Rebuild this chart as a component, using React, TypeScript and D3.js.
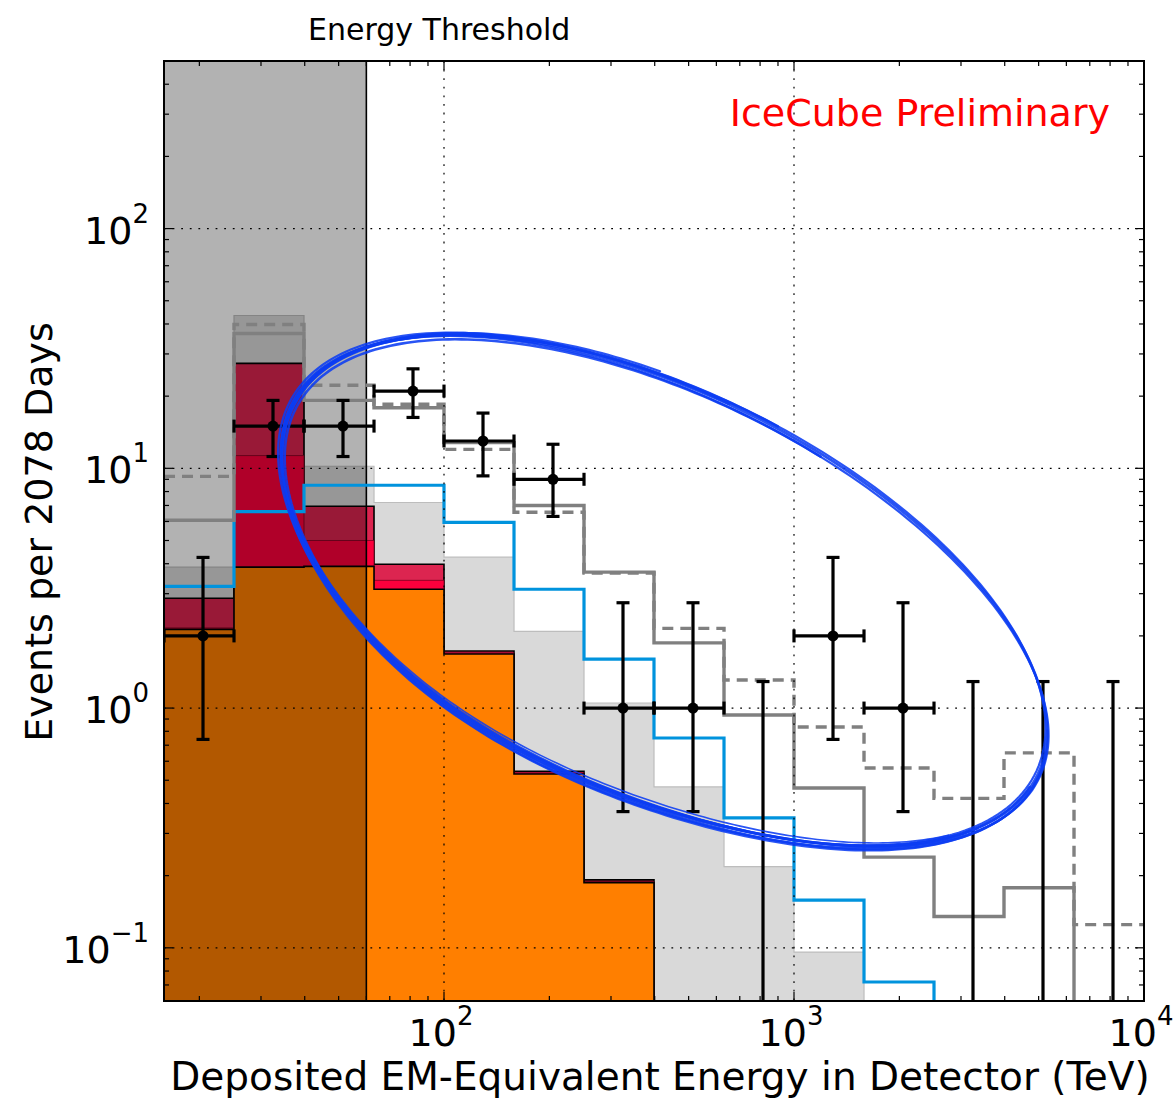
import React from "react";
import * as d3 from "d3";

// Bin edges (TeV), 0.2 decades wide
const binEdges = [15.85, 25.12, 39.81, 63.1, 100, 158.5, 251.2, 398.1, 631.0, 1000, 1585, 2512, 3981, 6310, 10000];
const thresholdEnergy = 60;

// Stacked expectation (cumulative tops per bin)
const lightGrayTop = [3.87, 43.4, 10.2, 7.2, 4.26, 2.09, 1.05, 0.469, 0.218, 0.096, 0.04, 0.02, 0.01, 0.005];
const pinkTop = [2.87, 27.4, 6.95, 3.98, 1.73, 0.545, 0.192, 0.05, 0.02, 0.01, 0.005, 0.003, 0.002, 0.001];
const redTop = [2.16, 11.3, 5.0, 3.41, 1.7, 0.537, 0.189, 0.04, 0.015, 0.008, 0.004, 0.002, 0.001, 0.001];
const orangeTop = [2.13, 3.87, 3.9, 3.13, 1.68, 0.531, 0.187, 0.03, 0.01, 0.005, 0.003, 0.002, 0.001, 0.001];

// Step-line predictions
const blueLine = [3.22, 6.6, 8.5, 8.5, 5.95, 3.13, 1.6, 0.75, 0.348, 0.158, 0.072, 0.03, 0.015, 0.008];
const solidGrayLine = [6.07, 36.5, 19.2, 17.9, 12.8, 7.0, 3.69, 1.87, 0.935, 0.464, 0.239, 0.135, 0.178, 0.03];
const dashedGrayLine = [9.26, 39.8, 22.2, 18.5, 12.0, 6.56, 3.66, 2.15, 1.31, 0.834, 0.562, 0.42, 0.65, 0.125];

// Observed events with 68% intervals
const observedCounts = [2, 15, 15, 21, 13, 9, 1, 1, 0, 2, 1, 0, 0, 0];
const countLow = [0.74, 11.2, 11.2, 16.3, 9.3, 6.3, 0.37, 0.37, 0, 0.74, 0.37, 0, 0, 0];
const countHigh = [4.25, 19.2, 19.2, 26.0, 17.0, 12.6, 2.75, 2.75, 1.29, 4.25, 2.75, 1.29, 1.29, 1.29];

// Axis ticks
const xMajorTicks = [100, 1000, 10000];
const xMajorExponents = ["2", "3", "4"];
const yMajorTicks = [0.1, 1, 10, 100];
const yMajorExponents = ["\u22121", "0", "1", "2"];

// Hand-drawn ring annotation (centre in data units, radii in x-decades)
const ringCenter = { energy: 428, events: 3.1 };
const ringRadii = { major: 1.188, minor: 0.558 };
const ringTiltDeg = 26.55;
const ringBulge = { px: 16, at: 2.0, spread: 0.7 }; // lower-left sag of the hand-drawn loop
// individual pen strokes: radius/centre offsets (px), tilt offset (deg), width, arc span (turns)
const ringStrokes = [
  { da: 0, db: 0, dx: 0, dy: 0, dt: 0, w: 2.8, t0: 0, t1: 1 },
  { da: 2, db: -2, dx: 0.5, dy: 1, dt: 0.2, w: 2.2, t0: 0, t1: 1 },
  { da: -2, db: 2, dx: -0.5, dy: -0.5, dt: -0.2, w: 2.2, t0: 0, t1: 1 },
  { da: 1, db: 3.5, dx: 0, dy: 1.5, dt: 0.1, w: 2.6, t0: 0.02, t1: 0.8 },
  { da: -2.5, db: -1.5, dx: 1, dy: 2, dt: -0.1, w: 2.6, t0: 0.05, t1: 0.82 },
  { da: 3, db: 1.5, dx: -1.5, dy: 0.5, dt: 0.3, w: 2.2, t0: 0.0, t1: 0.78 },
  { da: -1, db: 4.5, dx: 0.5, dy: 0, dt: -0.05, w: 2.2, t0: 0.1, t1: 0.75 },
  { da: 0.5, db: -3, dx: -1, dy: -1.5, dt: 0.05, w: 1.6, t0: 0.12, t1: 0.7 },
];

const W = 1174;
const H = 1099;
const plot = { left: 164, right: 1144, top: 61, bottom: 1001 };
const FONT = "DejaVu Sans, sans-serif";

export default function App() {
  const x = d3.scaleLog().domain([10 ** 1.2, 1e4]).range([plot.left, plot.right]);
  const y = d3.scaleLog().domain([0.06, 500]).range([plot.bottom, plot.top]);
  const yc = (v: number) => (v <= 0 ? plot.bottom + 10 : Math.min(y(v), plot.bottom + 10));
  const n = binEdges.length - 1;

  const stepArea = (vals: number[]) => {
    let d = `M${x(binEdges[0])},${plot.bottom + 10}`;
    vals.forEach((v, i) => {
      d += `L${x(binEdges[i])},${yc(v)}L${x(binEdges[i + 1])},${yc(v)}`;
    });
    d += `L${x(binEdges[n])},${plot.bottom + 10}Z`;
    return d;
  };
  const stepLine = (vals: number[]) => {
    const pts: [number, number][] = vals.map((v, i) => [x(binEdges[i]), yc(v)]);
    pts.push([x(binEdges[n]), yc(vals[vals.length - 1])]);
    return d3.line().curve(d3.curveStepAfter)(pts) || "";
  };

  // minor ticks
  const xMinor: number[] = [];
  [10, 100, 1000].forEach((dec) => {
    for (let k = 2; k <= 9; k++) {
      const v = dec * k;
      if (v > 10 ** 1.2 && v < 1e4) xMinor.push(v);
    }
  });
  const yMinor: number[] = [];
  [0.01, 0.1, 1, 10, 100].forEach((dec) => {
    for (let k = 2; k <= 9; k++) {
      const v = dec * k;
      if (v > 0.06 && v < 500) yMinor.push(v);
    }
  });

  // ring geometry
  const decadePx = x(1000) - x(100);
  const ringPaths = ringStrokes.map((s) => {
    const cx = x(ringCenter.energy) + s.dx;
    const cy = y(ringCenter.events) + s.dy;
    const a = ringRadii.major * decadePx + s.da;
    const b = ringRadii.minor * decadePx + s.db;
    const th = ((ringTiltDeg + s.dt) * Math.PI) / 180;
    const full = s.t0 === 0 && s.t1 === 1;
    const steps = 240;
    const pts: [number, number][] = d3.range(0, steps + (full ? 0 : 1)).map((k) => {
      const t = 2 * Math.PI * (s.t0 + (k / steps) * (s.t1 - s.t0)) - 0.25;
      let tw = t;
      while (tw < 0) tw += 2 * Math.PI;
      const sag = ringBulge.px * Math.exp(-(((tw - ringBulge.at) / ringBulge.spread) ** 2));
      const u = a * Math.cos(t);
      const v = b * Math.sin(t) + sag;
      return [cx + u * Math.cos(th) - v * Math.sin(th), cy + u * Math.sin(th) + v * Math.cos(th)];
    });
    const line = d3.line().curve(full ? d3.curveLinearClosed : d3.curveLinear);
    return { d: line(pts) || "", w: s.w };
  });

  const majLen = 9;
  const minLen = 5;
  const cap = 6.5;

  return (
    <svg width={W} height={H} style={{ position: "absolute", left: 0, top: 0, background: "#fff" }} fontFamily={FONT}>
      <defs>
        <clipPath id="plotClip">
          <rect x={plot.left} y={plot.top} width={plot.right - plot.left} height={plot.bottom - plot.top} />
        </clipPath>
      </defs>
      <rect x={0} y={0} width={W} height={H} fill="#fff" />
      <g clipPath="url(#plotClip)">
        {/* stacked fills */}
        <path d={stepArea(lightGrayTop)} fill="#d9d9d9" stroke="#bdbdbd" strokeWidth={1.2} />
        <path d={stepArea(pinkTop)} fill="#dc2550" stroke="#000" strokeWidth={1.6} />
        <path d={stepArea(redTop)} fill="#fc003c" stroke="#7a0020" strokeWidth={0.8} />
        <path d={stepArea(orangeTop)} fill="#ff7f00" stroke="#000" strokeWidth={1.6} />

        {/* below-threshold shading */}
        <rect
          x={plot.left}
          y={plot.top}
          width={x(thresholdEnergy) - plot.left}
          height={plot.bottom - plot.top}
          fill="#000"
          fillOpacity={0.3}
        />
        <line x1={x(thresholdEnergy)} x2={x(thresholdEnergy)} y1={plot.top} y2={plot.bottom} stroke="#000" strokeWidth={1.6} />

        {/* step predictions */}
        <path d={stepLine(blueLine)} fill="none" stroke="#0093dd" strokeWidth={3.2} />
        <path d={stepLine(solidGrayLine)} fill="none" stroke="#808080" strokeWidth={3.4} />
        <path d={stepLine(dashedGrayLine)} fill="none" stroke="#808080" strokeWidth={3.4} strokeDasharray="11,7" />

        {/* grid */}
        {xMajorTicks.slice(0, 2).map((t) => (
          <line key={"gx" + t} x1={x(t)} x2={x(t)} y1={plot.top} y2={plot.bottom} stroke="#000" strokeWidth={1.2} strokeDasharray="1.8,6.8" />
        ))}
        {yMajorTicks.map((t) => (
          <line key={"gy" + t} x1={plot.left} x2={plot.right} y1={y(t)} y2={y(t)} stroke="#000" strokeWidth={1.2} strokeDasharray="1.8,6.8" />
        ))}

        {/* observed data */}
        {observedCounts.map((c, i) => {
          const e0 = binEdges[i];
          const e1 = binEdges[i + 1];
          const xm = x((e0 + e1) / 2);
          const yTop = yc(countHigh[i]);
          const yBot = yc(countLow[i]);
          return (
            <g key={"d" + i} stroke="#000" strokeWidth={3.2}>
              <line x1={xm} x2={xm} y1={yTop} y2={yBot} />
              <line x1={xm - cap} x2={xm + cap} y1={yTop} y2={yTop} />
              {countLow[i] > 0 && <line x1={xm - cap} x2={xm + cap} y1={yBot} y2={yBot} />}
              {c > 0 && (
                <>
                  <line x1={x(e0)} x2={x(e1)} y1={y(c)} y2={y(c)} />
                  <line x1={x(e0)} x2={x(e0)} y1={y(c) - cap} y2={y(c) + cap} />
                  <line x1={x(e1)} x2={x(e1)} y1={y(c) - cap} y2={y(c) + cap} />
                  <circle cx={xm} cy={y(c)} r={5.5} fill="#000" stroke="none" />
                </>
              )}
            </g>
          );
        })}
      </g>

      {/* ring annotation */}
      <g fill="none" stroke="#0b3cf2" strokeOpacity={0.88} strokeLinecap="round">
        {ringPaths.map((p, i) => (
          <path key={"r" + i} d={p.d} strokeWidth={p.w} />
        ))}
      </g>

      {/* frame and ticks */}
      <g stroke="#000" strokeWidth={1.2}>
        {xMajorTicks.map((t) => (
          <g key={"xt" + t}>
            <line x1={x(t)} x2={x(t)} y1={plot.bottom} y2={plot.bottom - majLen} />
            <line x1={x(t)} x2={x(t)} y1={plot.top} y2={plot.top + majLen} />
          </g>
        ))}
        {xMinor.map((t) => (
          <g key={"xm" + t}>
            <line x1={x(t)} x2={x(t)} y1={plot.bottom} y2={plot.bottom - minLen} />
            <line x1={x(t)} x2={x(t)} y1={plot.top} y2={plot.top + minLen} />
          </g>
        ))}
        {yMajorTicks.map((t) => (
          <g key={"yt" + t}>
            <line x1={plot.left} x2={plot.left + majLen} y1={y(t)} y2={y(t)} />
            <line x1={plot.right} x2={plot.right - majLen} y1={y(t)} y2={y(t)} />
          </g>
        ))}
        {yMinor.map((t) => (
          <g key={"ym" + t}>
            <line x1={plot.left} x2={plot.left + minLen} y1={y(t)} y2={y(t)} />
            <line x1={plot.right} x2={plot.right - minLen} y1={y(t)} y2={y(t)} />
          </g>
        ))}
      </g>
      <rect
        x={plot.left}
        y={plot.top}
        width={plot.right - plot.left}
        height={plot.bottom - plot.top}
        fill="none"
        stroke="#000"
        strokeWidth={2}
      />

      {/* tick labels */}
      {xMajorTicks.map((t, i) => (
        <text key={"xl" + t} x={x(t) - 3} y={1046} textAnchor="middle" fontSize={38} fill="#000">
          <tspan>10</tspan>
          <tspan dy={-21} fontSize={26}>
            {xMajorExponents[i]}
          </tspan>
        </text>
      ))}
      {yMajorTicks.map((t, i) => (
        <text key={"yl" + t} x={149} y={y(t) + 15} textAnchor="end" fontSize={38} fill="#000">
          <tspan>10</tspan>
          <tspan dy={-21} fontSize={26}>
            {yMajorExponents[i]}
          </tspan>
        </text>
      ))}

      {/* titles */}
      <text x={660} y={1090} textAnchor="middle" fontSize={39} fill="#000">
        Deposited EM-Equivalent Energy in Detector (TeV)
      </text>
      <text transform={`translate(52,532) rotate(-90)`} textAnchor="middle" fontSize={38} fill="#000">
        Events per 2078 Days
      </text>
      <text x={308} y={40} fontSize={30} fill="#000">
        Energy Threshold
      </text>
      <text x={1110} y={126} textAnchor="end" fontSize={38} fill="#ff0000">
        IceCube Preliminary
      </text>
    </svg>
  );
}
